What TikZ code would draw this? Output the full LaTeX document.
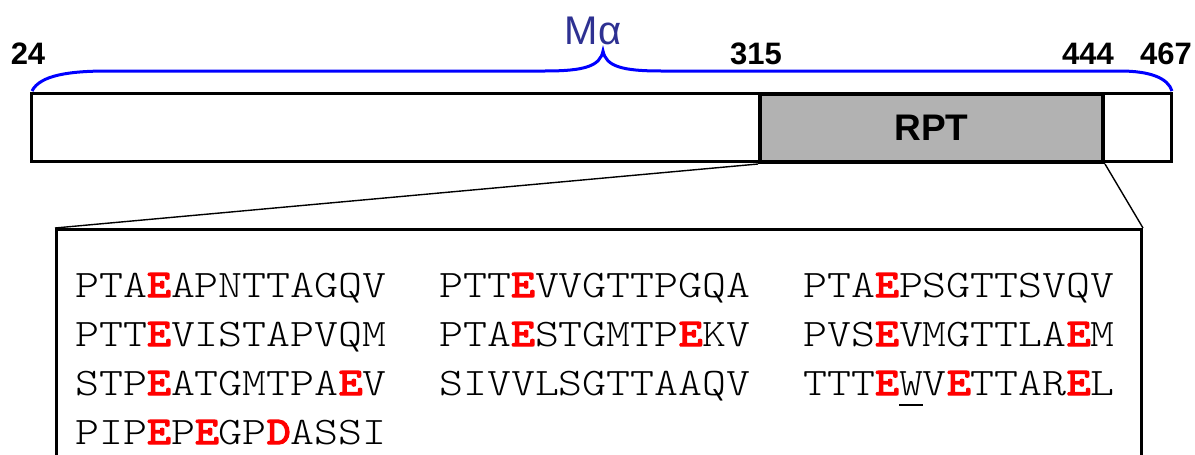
\documentclass[tikz,border=0pt]{standalone}
\usepackage{fontspec}
\setmainfont{Liberation Sans}
\newfontfamily\seqfont{lmmonolt10-regular.otf}[FakeStretch=1.17]
\newfontfamily\seqboldfont{lmmono10-regular.otf}[FakeStretch=1.17,FakeBold=3.5]
\definecolor{navy}{RGB}{46,49,146}
\definecolor{boxgray}{RGB}{178,178,178}
\definecolor{braceblue}{RGB}{0,0,255}
\newcommand{\hE}{{\seqboldfont\color{red}E}}
\newcommand{\hD}{{\seqboldfont\color{red}D}}
\begin{document}
\begin{tikzpicture}[x=1pt,y=-1pt,
  segment/.style={draw=black,line width=3pt,inner sep=0pt,minimum height=68pt,anchor=north west},
  posnum/.style={font=\fontsize{31}{31}\selectfont\bfseries,anchor=base,inner sep=0pt},
  seq/.style={font=\seqfont\fontsize{39}{49}\selectfont,anchor=base west,inner sep=0pt},
  zoomline/.style={draw=black,line width=1.4pt}]
\clip (0,0) rectangle (1195,455);
\fill[white] (0,0) rectangle (1195,455);

% protein bar and repeat region
\node[segment,fill=white,minimum width=1140pt] (bar) at (30,92) {};
\node[segment,fill=boxgray,line width=4pt,minimum width=343pt] (rpt) at (758,92)
  {\fontsize{37}{37}\selectfont\bfseries RPT};

% residue numbers
\node[posnum] (n24)  at (28,64)   {24};
\node[posnum] (n315) at (756,64)  {315};
\node[posnum] (n444) at (1088,64) {444};
\node[posnum] (n467) at (1166,64) {467};

% brace spanning the mature region
\coordinate (bl) at (32,91);
\coordinate (bt) at (603,51);
\coordinate (br) at (1172,91);
\draw[braceblue,line width=3pt]
  (bl) .. controls (40,75) and (70,71) .. (108,71) -- (545,71)
  .. controls (585,71) and (600,66) .. (bt)
  .. controls (606,66) and (621,71) .. (661,71) -- (1120,71)
  .. controls (1150,71) and (1168,78) .. (br);
\node[font=\fontsize{40}{40}\selectfont,text=navy,anchor=base,inner sep=0pt] (malpha) at (593,45) {Mα};

% expanded repeat sequence
\node[draw=black,line width=3pt,inner sep=0pt,minimum width=1085pt,minimum height=260pt,anchor=north west] (detail) at (55,228) {};
\draw[zoomline] (rpt.south west) -- (detail.north west);
\draw[zoomline] (rpt.south east) -- (detail.north east);

\node[seq] (a1) at (75,297)  {PTA\hE APNTTAGQV};
\node[seq] (a2) at (75,346)  {PTT\hE VISTAPVQM};
\node[seq] (a3) at (75,395)  {STP\hE ATGMTPA\hE V};
\node[seq] (a4) at (75,444)  {PIP\hE P\hE GP\hD ASSI};
\node[seq] (b1) at (439,297) {PTT\hE VVGTTPGQA};
\node[seq] (b2) at (439,346) {PTA\hE STGMTP\hE KV};
\node[seq] (b3) at (439,395) {SIVVLSGTTAAQV};
\node[seq] (c1) at (803,297) {PTA\hE PSGTTSVQV};
\node[seq] (c2) at (803,346) {PVS\hE VMGTTLA\hE M};
\node[seq] (c3) at (803,395) {TTT\hE\makebox[0pt][l]{\rule[-11pt]{24pt}{1.8pt}}WV\hE TTAR\hE L};
\end{tikzpicture}
\end{document}
